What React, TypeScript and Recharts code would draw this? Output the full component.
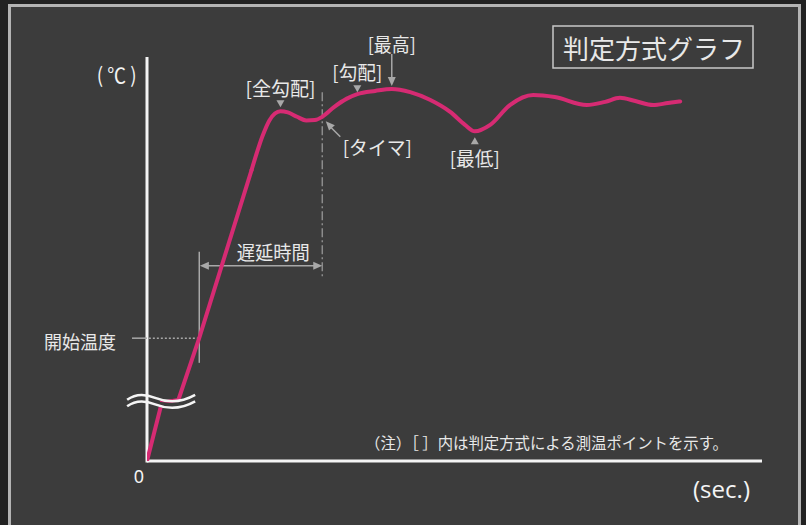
import React from 'react';
import { LineChart, Line, XAxis, YAxis, ReferenceLine, ReferenceDot } from 'recharts';

// temperature curve (time 0..100, temp 0..100 over the axes)
// rising part is straight, the rest is smoothed
const rampTime = [0, 2.4, 5.1, 8.5, 17.0];
const rampTemp = [0, 14.4, 15.1, 30.5, 72.0];

const curveTime = [17.0, 18.8, 19.9, 20.8, 21.7, 22.9, 24.4, 25.9, 27.3, 28.5, 30.4, 32.5, 34.2, 37.1, 39.8, 42.8, 46.0, 49.3, 51.7, 53.3, 55.8, 59.0, 62.8, 66.3, 71.5, 74.5, 76.9, 79.4, 82.3, 84.7, 86.7];
const curveTemp = [72.0, 80.5, 84.3, 86.0, 86.6, 86.3, 85.2, 84.3, 84.4, 85.2, 87.6, 89.7, 90.8, 91.6, 92.1, 91.3, 89.4, 86.4, 83.2, 81.6, 83.2, 88.1, 90.6, 90.1, 88.1, 88.9, 89.9, 89.1, 88.1, 88.6, 89.0];

// measuring points: 全勾配, 勾配, 最高, 最低
const pointLabels = ['[全勾配]', '[勾配]', '[最高]', '[最低]'];
const pointTime = [21.7, 34.2, 39.8, 53.3];
const pointTemp = [86.6, 90.8, 92.1, 81.6];

const timerTime = 28.5;
const timerTemp = 85.2;
const startTime = 8.5;
const startTemp = 30.4;
const delayLevel = 48.3;
const xTicks = [0];

const FONT = "'Noto Sans CJK JP', 'Noto Sans', sans-serif";
const PINK = '#d62b73';
const AXIS = '#f4f4f4';
const GREY = '#a8a8a8';
const TXT = '#e8e8e8';
const BG = '#3c3c3c';

const T = ({ x, y, s, w, children, anchor = 'middle', fill = TXT, family = FONT }: any) => (
  <text
    x={x}
    y={y}
    fontSize={s}
    textLength={w}
    lengthAdjust="spacingAndGlyphs"
    textAnchor={anchor}
    dominantBaseline="central"
    fill={fill}
    fontFamily={family}
  >
    {children}
  </text>
);

const triDown = (x: number, y: number) => `${x - 4},${y - 3.5} ${x + 4},${y - 3.5} ${x},${y + 3.5}`;
const triUp = (x: number, y: number) => `${x - 4},${y + 3.5} ${x + 4},${y + 3.5} ${x},${y - 3.5}`;

function head(x: number, y: number, fx: number, fy: number) {
  // arrow head with tip at (x,y), coming from (fx,fy)
  const a = Math.atan2(y - fy, x - fx);
  const L = 9, W = 4;
  const bx = x - L * Math.cos(a), by = y - L * Math.sin(a);
  const px = -Math.sin(a) * W, py = Math.cos(a) * W;
  return `${x},${y} ${bx + px},${by + py} ${bx - px},${by - py}`;
}

// shapes for the measuring point marks
const widths = [70, 50, 48, 50];
const PointMark = (i: number) => (p: any) => {
  const { cx, cy } = p;
  if (i === 0) return <g><polygon points={triDown(cx, cy - 7.5)} fill={GREY} /><T x={cx} y={cy - 23.5} s={19.5} w={widths[i]}>{pointLabels[i]}</T></g>;
  if (i === 1) return <g><polygon points={triDown(cx, cy - 5.5)} fill={GREY} /><T x={cx} y={cy - 23} s={19.5} w={widths[i]}>{pointLabels[i]}</T></g>;
  if (i === 2)
    return (
      <g>
        <line x1={cx} y1={cy - 35} x2={cx} y2={cy - 8} stroke={GREY} strokeWidth={1.5} />
        <polygon points={head(cx, cy - 3, cx, cy - 35)} fill={GREY} />
        <T x={cx} y={cy - 45} s={19.5} w={widths[i]}>{pointLabels[i]}</T>
      </g>
    );
  return <g><polygon points={triUp(cx, cy + 9.5)} fill={GREY} /><T x={cx} y={cy + 26} s={19.5} w={widths[i]}>{pointLabels[i]}</T></g>;
};

const TimerMark = (p: any) => {
  const { cx, cy } = p;
  return (
    <g>
      <line x1={cx + 18} y1={cy + 20} x2={cx + 8} y2={cy + 10} stroke={GREY} strokeWidth={1.5} />
      <polygon points={head(cx + 3.5, cy + 4.5, cx + 18, cy + 20)} fill={GREY} />
      <T x={cx + 55} y={cy + 30} s={19.5} w={69}>[タイマ]</T>
    </g>
  );
};

const BreakMark = (p: any) => {
  const { cx, cy } = p;
  const up = 'M-34,-1 C-26,-7 -16,-7 -6,-3 C4,1 18,3 34,-6';
  return (
    <g transform={`translate(${cx},${cy})`}>
      <path d="M-9,1.5 C0,5 18,7 34,-2.5" stroke={BG} strokeWidth={5} fill="none" />
      <path d={up} stroke={AXIS} strokeWidth={2.5} fill="none" />
      <path d={up} transform="translate(0,6.5)" stroke={AXIS} strokeWidth={2.5} fill="none" />
    </g>
  );
};

const DelayArrow = (p: any) => {
  const { x1, y1, x2, y2 } = p;
  return (
    <g>
      <line x1={x1 + 8} y1={y1} x2={x2 - 8} y2={y2} stroke={GREY} strokeWidth={1.5} />
      <polygon points={head(x1, y1, x2, y2)} fill={GREY} />
      <polygon points={head(x2, y2, x1, y1)} fill={GREY} />
      <T x={x2 - 49} y={y1 - 14} s={19.5} w={73}>遅延時間</T>
    </g>
  );
};

const StartTick = (p: any) => {
  const { x1, y1, x2, y2 } = p;
  return (
    <g>
      <line x1={x1} y1={y1} x2={x2} y2={y2} stroke={GREY} strokeWidth={1.5} />
      <T x={x1 - 16} y={y1 + 2.5} s={18.5} w={72} anchor="end">開始温度</T>
    </g>
  );
};

const ZeroLabel = (p: any) => (
  <text x={p.cx - 8} y={p.cy + 15} fontSize={18} textAnchor="middle" dominantBaseline="central" fill={AXIS} fontFamily="'Noto Sans', sans-serif">
    {xTicks[0]}
  </text>
);

export default function App() {
  const ramp = rampTime.map((t, i) => ({ t, temp: rampTemp[i] }));
  const curve = curveTime.map((t, i) => ({ t, temp: curveTemp[i] }));

  return (
    <div style={{ position: 'absolute', left: 0, top: 0, width: 806, height: 525, background: '#222', overflow: 'hidden' }}>
      <div style={{ position: 'absolute', left: 8, top: 4, width: 793, height: 540, boxSizing: 'border-box', border: '3px solid #b4b4b4', background: BG }} />
      <div style={{ position: 'absolute', left: 0, top: 0 }}>
        <LineChart width={806} height={525} margin={{ top: 57, right: 44, bottom: 64, left: 147 }}>
          <XAxis type="number" dataKey="t" domain={[0, 100]} allowDataOverflow hide />
          <YAxis type="number" dataKey="temp" domain={[0, 100]} allowDataOverflow hide />
          {/* axes */}
          <ReferenceLine segment={[{ x: 0, y: 0 }, { x: 100, y: 0 }]} stroke={AXIS} strokeWidth={3} ifOverflow="visible" />
          <ReferenceLine segment={[{ x: 0, y: -0.4 }, { x: 0, y: 100 }]} stroke={AXIS} strokeWidth={3} ifOverflow="visible" />
          <ReferenceDot x={xTicks[0]} y={0} r={0} shape={ZeroLabel} ifOverflow="visible" />
          {/* timer line (dash-dot) */}
          <ReferenceLine
            segment={[{ x: timerTime, y: 91.3 }, { x: timerTime, y: 45.3 }]}
            stroke="#8c8c8c"
            strokeWidth={1.5}
            strokeDasharray="9 3 2 3"
            ifOverflow="visible"
          />
          {/* start temperature */}
          <ReferenceLine
            segment={[{ x: 0.3, y: startTemp }, { x: startTime, y: startTemp }]}
            stroke={GREY}
            strokeWidth={1.5}
            strokeDasharray="2 2"
            ifOverflow="visible"
          />
          <ReferenceLine
            segment={[{ x: -2.44, y: startTemp }, { x: 0, y: startTemp }]}
            shape={StartTick}
            ifOverflow="visible"
          />
          <ReferenceLine
            segment={[{ x: startTime, y: 51.8 }, { x: startTime, y: 24.3 }]}
            stroke={GREY}
            strokeWidth={1.5}
            ifOverflow="visible"
          />
          <ReferenceLine
            segment={[{ x: startTime + 0.1, y: delayLevel }, { x: timerTime, y: delayLevel }]}
            shape={DelayArrow}
            ifOverflow="visible"
          />
          <Line data={ramp} dataKey="temp" type="linear" stroke={PINK} strokeWidth={4} strokeLinecap="round" dot={false} isAnimationActive={false} />
          <Line data={curve} dataKey="temp" type="monotone" stroke={PINK} strokeWidth={4} strokeLinecap="round" dot={false} isAnimationActive={false} />
          <ReferenceDot x={2.3} y={14.9} r={0} shape={BreakMark} ifOverflow="visible" />
          {pointTime.map((t, i) => (
            <ReferenceDot key={i} x={t} y={pointTemp[i]} r={0} shape={PointMark(i)} ifOverflow="visible" />
          ))}
          <ReferenceDot x={timerTime} y={timerTemp} r={0} shape={TimerMark} ifOverflow="visible" />
        </LineChart>
      </div>
      <svg width={806} height={525} style={{ position: 'absolute', left: 0, top: 0, pointerEvents: 'none' }}>
        <rect x={553} y={26} width={200} height={42} fill="none" stroke="#c8c8c8" strokeWidth={1.5} />
        <T x={654} y={47} s={26} w={182}>判定方式グラフ</T>
        <T x={116.7} y={74} s={21} w={40} fill={AXIS}>( ℃ )</T>
        <T x={721.5} y={489} s={23} w={57} fill={AXIS} family="'Open Sans', 'Noto Sans', sans-serif">(sec.)</T>
        <T x={365} y={441.5} s={15.5} w={363} anchor="start">（注）［ ］内は判定方式による測温ポイントを示す。</T>
      </svg>
    </div>
  );
}
